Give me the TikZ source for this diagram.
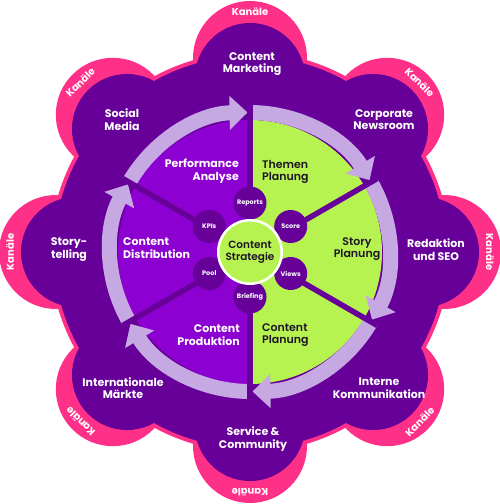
\documentclass[tikz,border=0pt]{standalone}
\usepackage{fontspec}
\setmainfont{Poppins}
\newfontfamily\popsemi{Poppins SemiBold}
\usetikzlibrary{arrows.meta,calc}
\definecolor{pinkc}{HTML}{FF3088}
\definecolor{purp}{HTML}{660099}
\definecolor{viol}{HTML}{8C00D2}
\definecolor{lime}{HTML}{B7F350}
\definecolor{lav}{HTML}{C6A8E2}
\definecolor{ink}{HTML}{1E1428}
\tikzset{
 petal/.style={text=white, font=\bfseries\fontsize{11}{12.5}\selectfont, align=center, inner sep=0pt},
 sectw/.style={text=white, font=\bfseries\fontsize{11}{12.5}\selectfont, inner sep=0pt},
 sectd/.style={text=ink, font=\popsemi\fontsize{11}{12.5}\selectfont, inner sep=0pt},
 dot/.style={circle, fill=purp, minimum size=33pt, inner sep=0pt, text=white, font=\bfseries\fontsize{6.5}{7}\selectfont},
 ringarrow/.style={draw=lav, line width=15pt, -{Triangle[width=33pt,length=18pt]}},
 divider/.style={draw=purp, line width=5.5pt},
 kan/.style={text=white, font=\bfseries\fontsize{10}{10}\selectfont, inner sep=0pt}
}
\begin{document}
\begin{tikzpicture}[x=1pt,y=1pt]
\useasboundingbox (0,0) rectangle (500,504);
\coordinate (C) at (250,252);
\begin{scope}[shift={(250,252)}]
 \fill[pinkc] (0,0) circle[radius=200pt];
 \foreach \a in {0,45,...,315}{
   \fill[pinkc] (\a:194) circle[radius=57pt];
   \fill[pinkc] (\a:174) circle[radius=58.5pt];}
 \fill[purp] (0,0) circle[radius=196pt];
 \foreach \a in {0,45,...,315} \fill[purp] (\a:174) circle[radius=55pt];
 \foreach \a in {0,45,90,135,180,225,270}
   \node[kan, rotate=\a-90] (kan\a) at ($(\a:194)+(\a:46)$) {Kanäle};
 \node[kan, rotate=45] (kan315) at ($(-45:194)+(-45:46)$) {Kanäle};
 \fill[viol] (0,0) -- (90:132) arc[start angle=90, end angle=270, radius=132pt] -- cycle;
 \fill[lime] (0,0) -- (270:132) arc[start angle=270, end angle=450, radius=132pt] -- cycle;
 \foreach \s in {150,90,30,-30,-90,-150}
   \draw[ringarrow] (\s:139.5) arc[start angle=\s, end angle=\s-59, radius=139.5pt];
 \foreach \a in {90,30,-30,-90,-150,150} \coordinate (d\a) at (\a:147);
\end{scope}
\foreach \a in {90,30,-30,-90,-150,150} \draw[divider] (C) -- (d\a);
\node[dot] (reports) at ($(C)+(0,2)+(90:47)$) {Reports};
\node[dot] (score) at ($(C)+(0,2)+(30:47)$) {Score};
\node[dot] (views) at ($(C)+(0,2)+(-30:47)$) {Views};
\node[dot] (briefing) at ($(C)+(0,2)+(-90:47)$) {Briefing};
\node[dot] (pool) at ($(C)+(0,2)+(-150:47)$) {Pool};
\node[dot] (kpis) at ($(C)+(0,2)+(150:47)$) {KPIs};
\node[circle, fill=lime, draw=white, line width=2.5pt, minimum size=63.5pt, inner sep=0pt, align=center, text=ink, font=\popsemi\fontsize{10.5}{12}\selectfont] (ctr) at (C) {Content\\Strategie};
% sector labels
\node[sectw, anchor=east, align=right] (perf) at (239,333) {Performance\\Analyse};
\node[sectd, anchor=west, align=left] (themen) at (262,332) {Themen\\Planung};
\node[sectd, align=center] (story) at (357,255) {Story\\Planung};
\node[sectd, anchor=west, align=left] (cplan) at (262,169) {Content\\Planung};
\node[sectw, anchor=east, align=right] (cprod) at (240,169) {Content\\Produktion};
\node[sectw, anchor=west, align=left] (cdist) at (123,256) {Content\\Distribution};
% petal labels
\node[petal] (cm) at (252,440) {Content\\Marketing};
\node[petal] (cn) at (384,384.5) {Corporate\\Newsroom};
\node[petal] (rs) at (436,254.5) {Redaktion\\und SEO};
\node[petal] (ik) at (379,116) {Interne\\Kommunikation};
\node[petal] (sc) at (253,65) {Service \&\\Community};
\node[petal] (im) at (123,116) {Internationale\\Märkte};
\node[petal] (st) at (69,254.5) {Story-\\telling};
\node[petal] (sm) at (122,384.5) {Social\\Media};
\end{tikzpicture}
\end{document}
